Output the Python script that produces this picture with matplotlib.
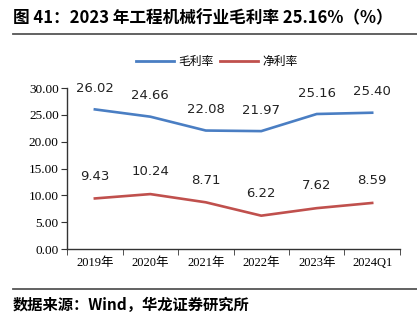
import numpy as np
import matplotlib.pyplot as plt
from matplotlib.lines import Line2D

plt.rcParams['font.family'] = ['Noto Sans CJK SC', 'DejaVu Sans']

years = ['2019年', '2020年', '2021年', '2022年', '2023年', '2024Q1']
gross = [26.02, 24.66, 22.08, 21.97, 25.16, 25.40]
net = [9.43, 10.24, 8.71, 6.22, 7.62, 8.59]

blue = '#4A7EC3'
red = '#C0504D'

fig = plt.figure(figsize=(4.17, 3.26), dpi=100)
ax = fig.add_axes([0.161, 0.236, 0.798, 0.494])

x = np.arange(len(years))
ax.plot(x, gross, color=blue, lw=1.9)
ax.plot(x, net, color=red, lw=1.9)

for xi, v in zip(x, gross):
    ax.annotate(f'{v:.2f}', (xi, v), xytext=(0, 15), textcoords='offset points',
                ha='center', va='center', fontsize=9.5, family='DejaVu Sans', color='#222222')
for xi, v in zip(x, net):
    ax.annotate(f'{v:.2f}', (xi, v), xytext=(0, 16), textcoords='offset points',
                ha='center', va='center', fontsize=9.5, family='DejaVu Sans', color='#222222')

ax.set_xlim(-0.5, len(years) - 0.5)
ax.set_ylim(0, 30)
ax.set_yticks(np.arange(0, 31, 5))
ax.set_yticklabels([f'{v:.2f}' for v in np.arange(0, 31, 5)], family='Liberation Serif', fontsize=9.5)
ax.set_xticks(x)
ax.set_xticklabels(years, family=['Liberation Serif', 'Noto Sans CJK SC'], fontsize=9)
ax.set_xticks(np.arange(-0.5, len(years)), minor=True)
ax.tick_params(axis='x', which='major', length=0, pad=6)
ax.tick_params(axis='x', which='minor', length=4, direction='out', color='#333333')
ax.tick_params(axis='y', length=4, direction='out', color='#333333', pad=2)
for s in ['top', 'right']:
    ax.spines[s].set_visible(False)
for s in ['left', 'bottom']:
    ax.spines[s].set_color('#333333')
    ax.spines[s].set_linewidth(1)

handles = [Line2D([], [], color=blue, lw=2), Line2D([], [], color=red, lw=2)]
fig.legend(handles, ['毛利率', '净利率'], loc='center', bbox_to_anchor=(0.52, 0.81), ncol=2,
           frameon=False, fontsize=8.5, handlelength=3.2, columnspacing=0.5, handletextpad=0.4)

fig.text(0.03, 0.945, '图 41：2023 年工程机械行业毛利率 25.16%（%）', fontsize=12,
         fontweight='bold', va='center', ha='left')
fig.add_artist(Line2D([0.03, 1.0], [0.895, 0.895], color='#555555', lw=1.3))
fig.add_artist(Line2D([0.03, 1.0], [0.115, 0.115], color='#555555', lw=1.3))
fig.text(0.03, 0.065, '数据来源：Wind，华龙证券研究所', fontsize=11, fontweight='bold',
         va='center', ha='left')

fig.savefig('out.png', dpi=100)
